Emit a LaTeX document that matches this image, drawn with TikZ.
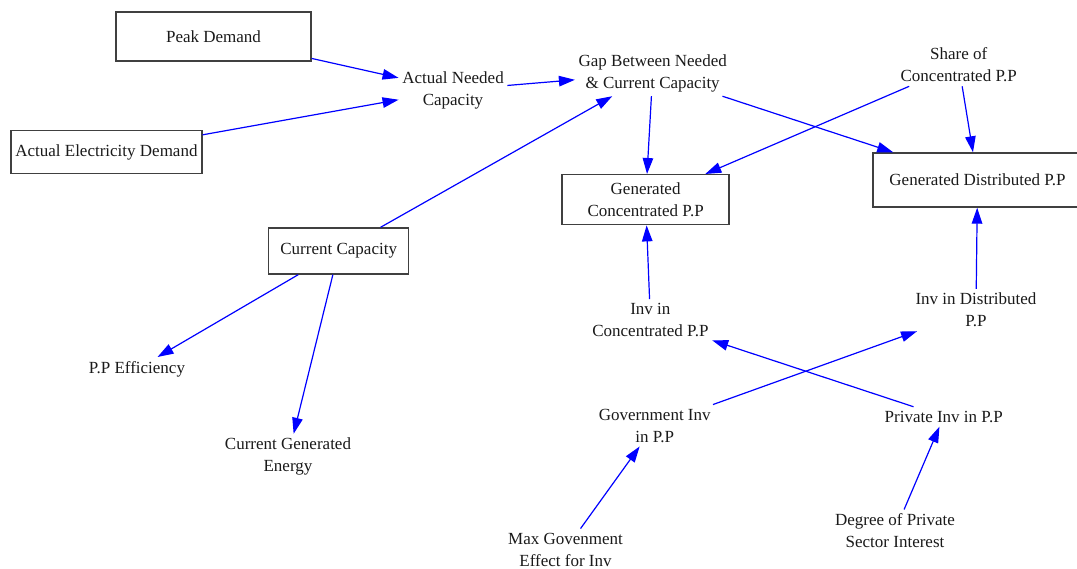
\documentclass[tikz,border=0pt]{standalone}
\usepackage{fontspec}
\setmainfont{Liberation Serif}
\usetikzlibrary{arrows.meta}
\definecolor{linkblue}{RGB}{0,0,255}
\definecolor{boxgray}{RGB}{64,64,64}
\definecolor{inkblack}{RGB}{26,26,26}
\begin{document}
\begin{tikzpicture}[x=1pt,y=-1pt,
  every node/.style={font=\fontsize{17}{22}\selectfont, text=inkblack, align=center},
  var/.style={inner xsep=3.5pt, inner ysep=4pt},
  level/.style={draw=boxgray, line width=1.4pt, inner sep=0pt},
  link/.style={draw=linkblue, line width=1.2pt, -{Triangle[length=16pt,width=10.5pt]}}]
\useasboundingbox (0,0) rectangle (1077,569);
\clip (0,0) rectangle (1077,569);

% stocks (boxed variables)
\node[level, minimum width=195, minimum height=49] (peak) at (213.5,36.5) {Peak Demand};
\node[level, minimum width=191, minimum height=43.4] (aed) at (106.4,152) {Actual Electricity Demand};
\node[level, minimum width=140, minimum height=46] (cur) at (338.7,251) {Current Capacity};
\node[level, minimum width=167, minimum height=50] (gc) at (645.6,199.7) {Generated\\Concentrated P.P};
\node[level, minimum width=209, minimum height=54] (gd) at (977.5,180) {Generated Distributed P.P};

% auxiliary variables
\node[var] (anc) at (453,90) {Actual Needed\\Capacity};
\node[var] (gap) at (652.7,73.3) {Gap Between Needed\\\& Current Capacity};
\node[var] (share) at (958.7,65) {Share of\\Concentrated P.P};
\node[var] (ppe) at (137,369) {P.P Efficiency};
\node[var] (cge) at (288,456.7) {Current Generated\\Energy};
\node[var] (invc) at (650.4,320) {Inv in\\Concentrated P.P};
\node[var] (invd) at (976,310) {Inv in Distributed\\P.P};
\node[var] (gov) at (654.7,425.5) {Government Inv\\in P.P};
\node[var] (priv) at (943.7,416.7) {Private Inv in P.P};
\node[var] (deg) at (895,530.8) {Degree of Private\\Sector Interest};
\node[var] (maxg) at (565.5,549.5) {Max Govenment\\Effect for Inv};

% causal links
\draw[link] (peak) -- (anc);
\draw[link] (aed) -- (anc);
\draw[link] (anc) -- (gap);
\draw[link] (cur) -- (gap);
\draw[link] (gap) -- (gc);
\draw[link] (gap) -- (gd);
\draw[link] (share) -- (gc);
\draw[link] (share) -- (gd);
\draw[link] (invc) -- (gc);
\draw[link] (invd) -- (gd);
\draw[link] (priv) -- (invc);
\draw[link] (gov) -- (invd);
\draw[link] (maxg) -- (gov);
\draw[link] (deg) -- (priv);
\draw[link] (cur) -- (ppe);
\draw[link] (cur) -- (cge);
\end{tikzpicture}
\end{document}
